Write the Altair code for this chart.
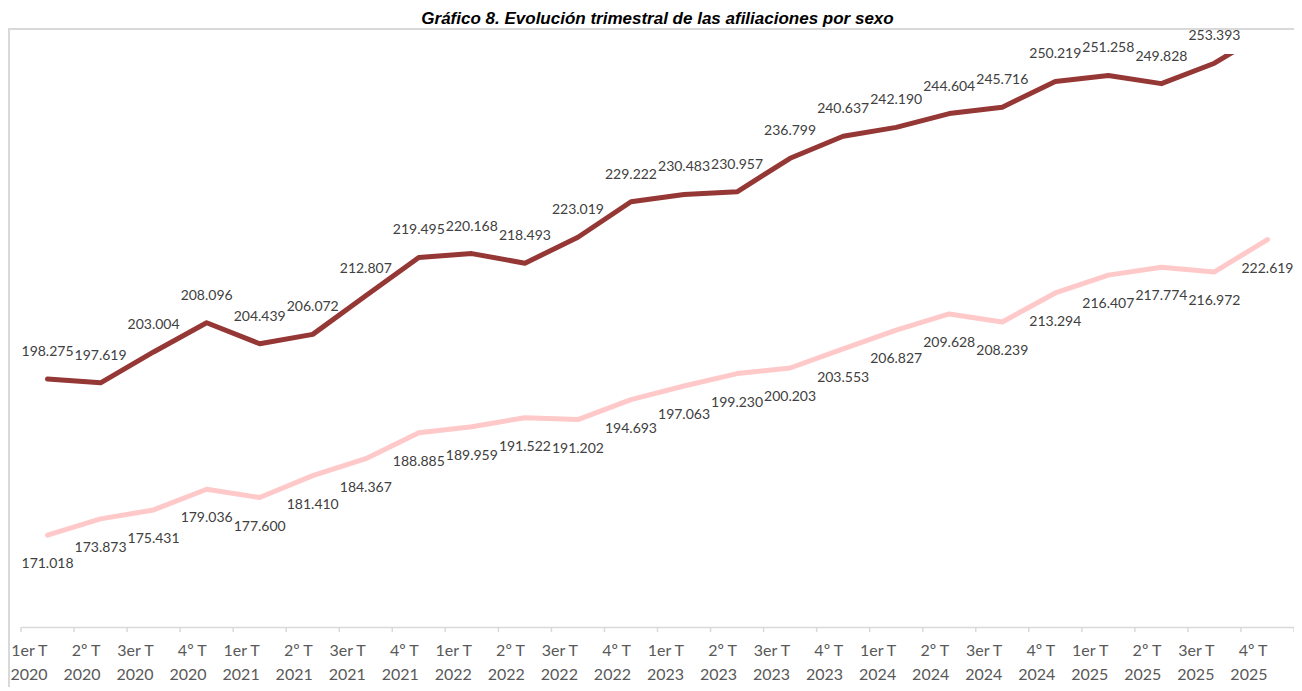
import altair as alt
import pandas as pd

TITLE = "Gráfico 8. Evolución trimestral de las afiliaciones por sexo"

QUARTERS = ["1er T", "2º T", "3er T", "4º T"]
YEARS = ["2020", "2021", "2022", "2023", "2024", "2025"]
CATS = [f"{q} {y}" for y in YEARS for q in QUARTERS]

HOMBRES = [198275, 197619, 203004, 208096, 204439, 206072, 212807, 219495,
           220168, 218493, 223019, 229222, 230483, 230957, 236799, 240637,
           242190, 244604, 245716, 250219, 251258, 249828, 253393, 259000]
MUJERES = [171018, 173873, 175431, 179036, 177600, 181410, 184367, 188885,
           189959, 191522, 191202, 194693, 197063, 199230, 200203, 203553,
           206827, 209628, 208239, 213294, 216407, 217774, 216972, 222619]

SERIES = ["Hombres", "Mujeres"]
COLORS = ["#953735", "#FFC9C9"]
Y_DOMAIN = [155000, 255000]

W, H = 1273, 573


def fmt(v):
    return f"{v:,}".replace(",", ".")


rows = []
for s, vals in zip(SERIES, [HOMBRES, MUJERES]):
    for c, v in zip(CATS, vals):
        rows.append({"cat": c, "serie": s, "v": v, "lab": fmt(v)})
df = pd.DataFrame(rows)

xscale = alt.Scale(domain=CATS, paddingInner=0, paddingOuter=0)
yscale = alt.Scale(domain=Y_DOMAIN, zero=False, nice=False)

base = alt.Chart(df)

x_enc = alt.X(
    "cat:N", sort=CATS, scale=xscale, bandPosition=0.5,
    axis=alt.Axis(
        title=None, labelAngle=0,
        labelExpr="[slice(datum.label,0,-5), slice(datum.label,-4)]",
        labelFont="Lato", labelFontSize=16, labelColor="#595959",
        labelLineHeight=24, labelPadding=15, ticks=False,
        domainColor="#d9d9d9", domainWidth=1.5, labelOverlap=False,
        labelBaseline="top",
    ),
)
y_enc = alt.Y("v:Q", scale=yscale, axis=None)
color_enc = alt.Color("serie:N", scale=alt.Scale(domain=SERIES, range=COLORS), legend=None)

lines = base.mark_line(strokeWidth=5, strokeCap="round", strokeJoin="round", clip=True).encode(
    x=x_enc, y=y_enc, color=color_enc, detail="serie:N"
)

lab_h = base.transform_filter(
    f"datum.serie == 'Hombres' && datum.v <= {Y_DOMAIN[1]}"
).mark_text(font="Lato", fontSize=14, color="#404040", dy=-27, baseline="middle").encode(
    x=alt.X("cat:N", sort=CATS, scale=xscale, bandPosition=0.5), y=y_enc, text="lab:N"
)
lab_m = base.transform_filter("datum.serie == 'Mujeres'").mark_text(
    font="Lato", fontSize=14, color="#404040", dy=29, baseline="middle"
).encode(
    x=alt.X("cat:N", sort=CATS, scale=xscale, bandPosition=0.5), y=y_enc, text="lab:N"
)

# axis tick marks at band boundaries
ticks_start = base.transform_filter("datum.serie == 'Hombres'").mark_rule(
    color="#d9d9d9", strokeWidth=1.5
).encode(
    x=alt.X("cat:N", sort=CATS, scale=xscale, bandPosition=0),
    y=alt.value(H), y2=alt.value(H + 5),
)
ticks_end = base.transform_filter(
    f"datum.serie == 'Hombres' && datum.cat == '{CATS[-1]}'"
).mark_rule(color="#d9d9d9", strokeWidth=1.5).encode(
    x=alt.X("cat:N", sort=CATS, scale=xscale, bandPosition=1),
    y=alt.value(H), y2=alt.value(H + 5),
)

# chart-area border (left and top)
border_df = pd.DataFrame({"k": [0]})
border_left = alt.Chart(border_df).mark_rule(color="#d9d9d9", strokeWidth=2).encode(
    x=alt.value(-12), y=alt.value(-25), y2=alt.value(H + 60)
)
border_top = alt.Chart(border_df).mark_rule(color="#d9d9d9", strokeWidth=2).encode(
    x=alt.value(-13), x2=alt.value(W), y=alt.value(-25)
)

title = alt.Chart(pd.DataFrame({"t": [TITLE]})).mark_text(
    font="Liberation Sans", fontSize=17, fontWeight="bold", fontStyle="italic",
    color="#000000", baseline="alphabetic", align="center",
).encode(text="t:N", x=alt.value(W / 2), y=alt.value(-30))

chart = alt.layer(
    border_left, border_top, title, ticks_start, ticks_end, lines, lab_h, lab_m
).properties(
    width=W, height=H,
    autosize=alt.AutoSizeParams(type="none"),
    padding={"left": 13, "top": 46, "right": 0, "bottom": 60},
).configure_view(stroke=None)

chart.save("out.html", embed_options={"renderer": "svg", "actions": False})
